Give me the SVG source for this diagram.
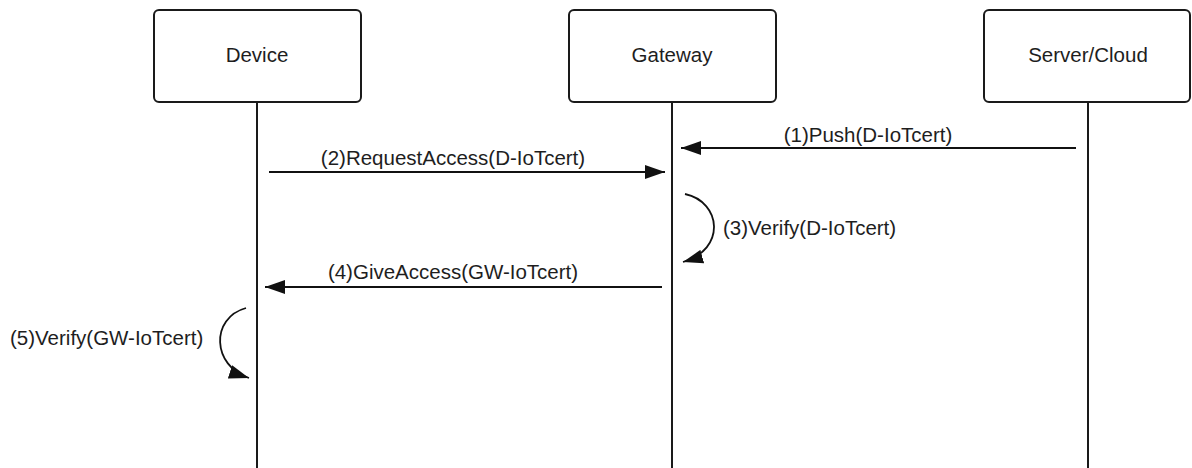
<svg xmlns="http://www.w3.org/2000/svg" width="1192" height="468" viewBox="0 0 1192 468">
  <style>
    .box { fill: #ffffff; stroke: #1a1a1a; stroke-width: 2; }
    .life { stroke: #1a1a1a; stroke-width: 2; fill: none; }
    .msg { stroke: #111111; stroke-width: 1.8; fill: none; }
    .label { font-family: "Liberation Sans", Arial, sans-serif; font-size: 20.5px; fill: #1e1e1e; }
    .title { text-anchor: middle; }
  </style>
  <defs>
    <marker id="head" viewBox="0 0 20 14" refX="20" refY="7" markerWidth="20" markerHeight="14" markerUnits="userSpaceOnUse" orient="auto">
      <path d="M0,0 L20,7 L0,14 Z" fill="#111111"/>
    </marker>
  </defs>
  <rect width="1192" height="468" fill="#ffffff"/>

  <!-- lifelines -->
  <g id="lifelines">
    <line class="life" x1="257" y1="102" x2="257" y2="468"/>
    <line class="life" x1="672" y1="102" x2="672" y2="468"/>
    <line class="life" x1="1088" y1="102" x2="1088" y2="468"/>
  </g>

  <!-- participants -->
  <g id="device">
    <rect class="box" x="154" y="10" width="207" height="92" rx="5"/>
    <text class="label title" x="257" y="62">Device</text>
  </g>
  <g id="gateway">
    <rect class="box" x="569" y="10" width="207" height="92" rx="5"/>
    <text class="label title" x="672" y="62">Gateway</text>
  </g>
  <g id="server">
    <rect class="box" x="984" y="10" width="206" height="92" rx="5"/>
    <text class="label title" x="1088" y="62">Server/Cloud</text>
  </g>

  <!-- messages -->
  <g id="connectors">
    <line class="msg" x1="1076" y1="148" x2="681" y2="148" marker-end="url(#head)"/>
    <line class="msg" x1="269" y1="172" x2="665" y2="172" marker-end="url(#head)"/>
    <path class="msg" d="M685,194 C722,202 726,250 683,262" marker-end="url(#head)"/>
    <line class="msg" x1="662" y1="287" x2="265" y2="287" stroke-width="2.4" marker-end="url(#head)"/>
    <path class="msg" d="M246,308 C210,318 212,366 249,378" marker-end="url(#head)"/>
  </g>

  <!-- message labels -->
  <g id="labels">
    <text class="label" x="868" y="142" text-anchor="middle">(1)Push(D-IoTcert)</text>
    <text class="label" x="453" y="165" text-anchor="middle">(2)RequestAccess(D-IoTcert)</text>
    <text class="label" x="723" y="235">(3)Verify(D-IoTcert)</text>
    <text class="label" x="453" y="279" text-anchor="middle">(4)GiveAccess(GW-IoTcert)</text>
    <text class="label" x="10" y="345">(5)Verify(GW-IoTcert)</text>
  </g>
</svg>
